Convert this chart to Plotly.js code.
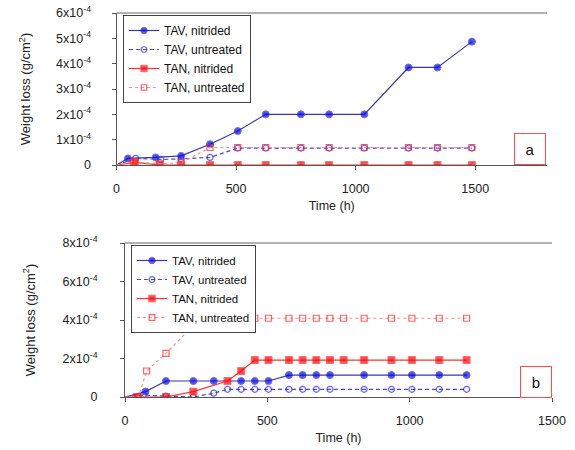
<!DOCTYPE html>
<html>
<head>
<meta charset="utf-8">
<script src="https://cdn.plot.ly/plotly-3.0.1.min.js"></script>
<style>html,body{margin:0;padding:0;background:#fff}#chart{width:575px;height:450px}</style>
</head>
<body>
<div id="chart"></div>
<script>
// values in units of 1e-4 g/cm2
const SCALE = 1e-4;

// ---- panel a ----
const a_tavNit_t = [0, 48, 164, 270, 391, 507, 624, 771, 889, 1036, 1221, 1342, 1486];
const a_tavNit_v = [0, 0.26, 0.30, 0.36, 0.82, 1.34, 2.0, 2.0, 2.0, 2.0, 3.85, 3.85, 4.87];

const a_tavUnt_t = [0, 80, 185, 270, 391, 507, 624, 771, 889, 1036, 1221, 1342, 1486];
const a_tavUnt_v = [0, 0.26, 0.22, 0.24, 0.30, 0.67, 0.67, 0.67, 0.67, 0.67, 0.67, 0.67, 0.67];

const a_tanNit_t = [0, 77, 180, 270, 391, 507, 624, 771, 889, 1036, 1221, 1342, 1486];
const a_tanNit_v = [0, 0.10, 0, 0, 0, 0, 0, 0, 0, 0, 0, 0, 0];

const a_tanUnt_t = [0, 70, 182, 270, 391, 507, 624, 771, 889, 1036, 1221, 1342, 1486];
const a_tanUnt_v = [0, 0.12, 0.05, 0.08, 0.69, 0.69, 0.69, 0.69, 0.69, 0.69, 0.69, 0.69, 0.69];

// ---- panel b ----
const b_tavNit_t = [0, 72, 144, 240, 312, 408, 456, 504, 576, 624, 672, 720, 840, 936, 1008, 1104, 1200];
const b_tavNit_v = [0, 0.28, 0.83, 0.83, 0.83, 0.83, 0.83, 0.83, 1.14, 1.14, 1.14, 1.14, 1.14, 1.14, 1.14, 1.14, 1.14];

const b_tavUnt_t = [0, 64, 144, 240, 312, 360, 408, 456, 504, 576, 624, 672, 720, 840, 936, 1008, 1104, 1200];
const b_tavUnt_v = [0, 0.10, 0.05, 0, 0.20, 0.40, 0.40, 0.40, 0.40, 0.40, 0.40, 0.40, 0.40, 0.40, 0.40, 0.40, 0.40, 0.40];

const b_tanNit_t = [0, 41, 144, 240, 360, 408, 456, 504, 576, 624, 672, 720, 768, 840, 936, 1008, 1104, 1200];
const b_tanNit_v = [0, 0, 0, 0.28, 0.83, 1.35, 1.92, 1.92, 1.92, 1.92, 1.92, 1.92, 1.92, 1.92, 1.92, 1.92, 1.92, 1.92];

const b_tanUnt_t = [0, 48, 76, 144, 243, 334, 408, 456, 504, 576, 624, 672, 720, 768, 840, 936, 1008, 1104, 1200];
const b_tanUnt_v = [0, 0, 1.35, 2.27, 3.76, 3.76, 3.76, 4.09, 4.09, 4.09, 4.09, 4.09, 4.09, 4.09, 4.09, 4.09, 4.09, 4.09, 4.09];

// tick labels
const a_yTickVals = [0, 1, 2, 3, 4, 5, 6];
const a_yTickText = ['0', '1x10<sup>-4</sup>', '2x10<sup>-4</sup>', '3x10<sup>-4</sup>', '4x10<sup>-4</sup>', '5x10<sup>-4</sup>', '6x10<sup>-4</sup>'];
const b_yTickVals = [0, 2, 4, 6, 8];
const b_yTickText = ['0', '2x10<sup>-4</sup>', '4x10<sup>-4</sup>', '6x10<sup>-4</sup>', '8x10<sup>-4</sup>'];
const xTickVals = [0, 500, 1000, 1500];

const names = ['TAV, nitrided', 'TAV, untreated', 'TAN, nitrided', 'TAN, untreated'];

const styles = [
  {line: {color: '#3838a8', width: 1.2, dash: 'solid'}, marker: {color: '#0000ff', symbol: 'circle', size: 7}},
  {line: {color: '#4848c8', width: 1.2, dash: '4px,3px'}, marker: {color: '#2020ff', symbol: 'circle-open', size: 6, line: {width: 1.2}}},
  {line: {color: '#ff3030', width: 1.2, dash: 'solid'}, marker: {color: '#ff0000', symbol: 'square', size: 7}},
  {line: {color: '#ff8c8c', width: 1.2, dash: 'dot'}, marker: {color: '#ff2020', symbol: 'square-open', size: 6, line: {width: 1.2}}}
];

function mk(t, v, i, xa, ya, leg) {
  const st = styles[i];
  const sizes = t.map(x => x === 0 ? 0 : st.marker.size);
  return {
    x: t, y: v.map(d => d * SCALE), name: names[i], type: 'scatter', mode: 'lines+markers',
    xaxis: xa, yaxis: ya, legend: leg,
    line: st.line,
    marker: Object.assign({}, st.marker, {size: sizes})
  };
}

const data = [
  mk(a_tavNit_t, a_tavNit_v, 0, 'x', 'y', 'legend'),
  mk(a_tavUnt_t, a_tavUnt_v, 1, 'x', 'y', 'legend'),
  mk(a_tanNit_t, a_tanNit_v, 2, 'x', 'y', 'legend'),
  mk(a_tanUnt_t, a_tanUnt_v, 3, 'x', 'y', 'legend'),
  mk(b_tavNit_t, b_tavNit_v, 0, 'x2', 'y2', 'legend2'),
  mk(b_tavUnt_t, b_tavUnt_v, 1, 'x2', 'y2', 'legend2'),
  mk(b_tanNit_t, b_tanNit_v, 2, 'x2', 'y2', 'legend2'),
  mk(b_tanUnt_t, b_tanUnt_v, 3, 'x2', 'y2', 'legend2')
];

const FONT = 'Liberation Sans, Arial, sans-serif';
const axisCommon = {
  showgrid: false, zeroline: false, showline: true, linecolor: '#555', linewidth: 1,
  ticks: 'outside', ticklen: 4, tickcolor: '#555', tickfont: {family: FONT, size: 12.5, color: '#222'}
};

const W = 575, H = 450;
const layout = {
  width: W, height: H,
  margin: {l: 0, r: 0, t: 0, b: 0},
  paper_bgcolor: '#fff', plot_bgcolor: '#fff',
  font: {family: FONT, color: '#222'},
  xaxis: Object.assign({}, axisCommon, {
    domain: [116.5 / W, 547 / W], range: [0, 1800], tickvals: xTickVals, ticklabelstandoff: 8,
    title: {text: 'Time (h)', font: {family: FONT, size: 12.5}, standoff: 6}, anchor: 'y'
  }),
  yaxis: Object.assign({}, axisCommon, {
    domain: [1 - 165 / H, 1 - 13 / H], range: [0, 6e-4],
    tickvals: a_yTickVals.map(d => d * SCALE), ticktext: a_yTickText, ticklabelstandoff: 18,
    title: {text: 'Weight loss (g/cm<sup>2</sup>)', font: {family: FONT, size: 13}, standoff: 22}, anchor: 'x'
  }),
  xaxis2: Object.assign({}, axisCommon, {
    domain: [125 / W, 552 / W], range: [0, 1500], tickvals: xTickVals, ticklabelstandoff: 8,
    title: {text: 'Time (h)', font: {family: FONT, size: 12.5}, standoff: 6}, anchor: 'y2'
  }),
  yaxis2: Object.assign({}, axisCommon, {
    domain: [1 - 397 / H, 1 - 243 / H], range: [0, 8e-4],
    tickvals: b_yTickVals.map(d => d * SCALE), ticktext: b_yTickText, ticklabelstandoff: 20,
    title: {text: 'Weight loss (g/cm<sup>2</sup>)', font: {family: FONT, size: 13}, standoff: 24}, anchor: 'x2'
  }),
  legend: {
    x: 123 / W, y: 1 - 15 / H, xanchor: 'left', yanchor: 'top',
    bordercolor: '#444', borderwidth: 1, bgcolor: '#fff',
    font: {family: FONT, size: 12, color: '#111'}, itemwidth: 30, tracegroupgap: 0
  },
  legend2: {
    x: 131 / W, y: 1 - 245 / H, xanchor: 'left', yanchor: 'top',
    bordercolor: '#444', borderwidth: 1, bgcolor: '#fff',
    font: {family: FONT, size: 11.5, color: '#111'}, itemwidth: 30, tracegroupgap: 0
  },
  shapes: [
    {type: 'line', xref: 'x domain', yref: 'y domain', x0: 0, x1: 1, y0: 1, y1: 1, line: {color: '#666', width: 1}},
    {type: 'line', xref: 'x2 domain', yref: 'y2 domain', x0: 0, x1: 1, y0: 1, y1: 1, line: {color: '#666', width: 1}}
  ],
  annotations: [
    {text: 'a', xref: 'paper', yref: 'paper', x: 514 / W, y: 1 - 133 / H, xanchor: 'left', yanchor: 'top',
     showarrow: false, width: 28, height: 28, borderpad: 1, bordercolor: '#ff4d4d', borderwidth: 1,
     bgcolor: '#fff', font: {family: FONT, size: 15, color: '#111'}, valign: 'middle', align: 'center'},
    {text: 'b', xref: 'paper', yref: 'paper', x: 520 / W, y: 1 - 366 / H, xanchor: 'left', yanchor: 'top',
     showarrow: false, width: 28, height: 28, borderpad: 1, bordercolor: '#ff4d4d', borderwidth: 1,
     bgcolor: '#fff', font: {family: FONT, size: 15, color: '#111'}, valign: 'middle', align: 'center'}
  ]
};

Plotly.newPlot('chart', data, layout, {displayModeBar: false, staticPlot: true});
</script>
</body>
</html>
